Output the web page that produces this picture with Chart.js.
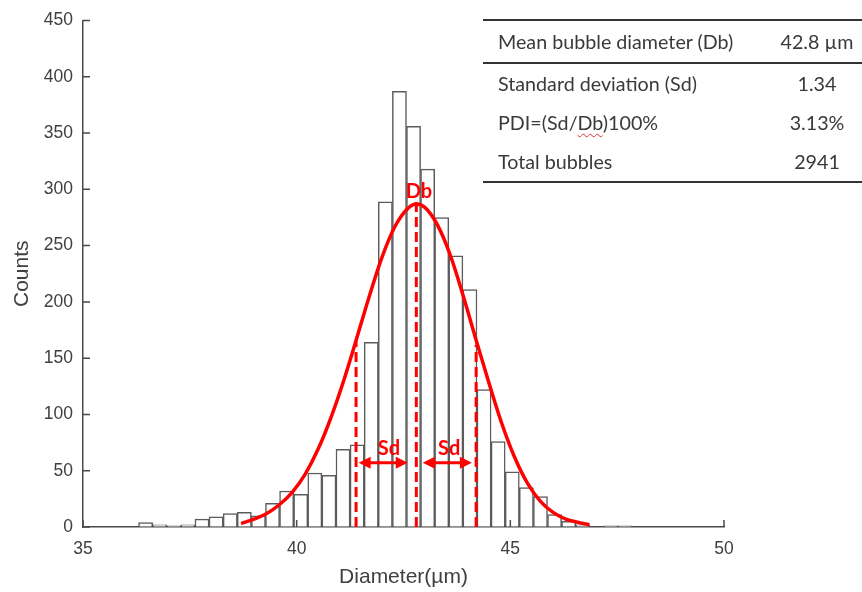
<!DOCTYPE html>
<html lang="en">
<head>
  <meta charset="UTF-8">
  <title>Bubble Diameter Distribution</title>
  <script src="https://cdn.jsdelivr.net/npm/chart.js"></script>
  <style>
    body {
      margin: 0;
      background: #ffffff;
    }
    .wrap {
      position: relative;
      width: 862px;
      height: 592px;
    }

    /* stats table, top right */
    .stats {
      position: absolute;
      left: 483px;
      top: 19px;
      width: 379px;
      border-collapse: collapse;
      font-family: 'Lato', sans-serif;
      font-size: 19.7px;
      color: #3a3a3a;
      border-top: 2px solid #333;
      border-bottom: 2px solid #333;
    }
    .stats td {
      padding: 0;
      height: 39px;
      line-height: 39px;
      white-space: nowrap;
    }
    .stats tr.head td {
      height: 41px;
      border-bottom: 2px solid #333;
    }
    .stats td.name { padding-left: 15px; }
    .stats td.val { text-align: center; width: 90px; }
    .squiggle { text-decoration: underline wavy #e03030 1px; text-underline-offset: 3px; }
  </style>
</head>
<body>

  <div class="wrap">
    <canvas id="histChart"></canvas>

    <table class="stats">
      <tr class="head"><td class="name">Mean bubble diameter (Db)</td><td class="val">42.8 µm</td></tr>
      <tr><td class="name">Standard deviation (Sd)</td><td class="val">1.34</td></tr>
      <tr><td class="name">PDI=(Sd/<span class="squiggle">Db</span>)100%</td><td class="val">3.13%</td></tr>
      <tr><td class="name">Total bubbles</td><td class="val">2941</td></tr>
    </table>
  </div>

  <script>
// Histogram bins (bin centres, µm) and counts
const binCenters = [36.465, 36.795, 37.125, 37.455, 37.785, 38.115, 38.445, 38.775, 39.105, 39.435,
                    39.765, 40.095, 40.425, 40.755, 41.085, 41.415, 41.745, 42.075, 42.405, 42.735,
                    43.065, 43.395, 43.725, 44.055, 44.385, 44.715, 45.045, 45.375, 45.705, 46.035,
                    46.365, 46.695, 47.025, 47.355, 47.685];
const binCounts = [4, 2, 1, 2, 7, 9, 12, 13, 10, 21,
                   32, 29, 48, 46, 69, 73, 164, 289, 387, 356,
                   318, 275, 241, 211, 122, 76, 49, 35, 27, 11,
                   5, 2, 0, 1, 1];

// Fitted normal curve
const curveX = [38.7, 39.0, 39.3, 39.6, 39.9, 40.2, 40.5, 40.8, 41.1, 41.4, 41.7, 42.0, 42.3, 42.6, 42.8,
                43.0, 43.3, 43.6, 43.9, 44.2, 44.5, 44.8, 45.1, 45.4, 45.7, 46.0, 46.3, 46.6, 46.85];
const curveY = [3, 7, 12, 20, 31, 47, 69, 97, 130, 167, 205, 240, 267, 283, 287,
                284, 268, 241, 205, 166, 128, 92, 62, 39, 23, 13, 7, 4, 2];

// Mean and +-Sd markers
const markerX = [41.39, 42.8, 44.2];
const markerTop = [165, 290, 162];
const arrowY = 57;
const leftArrow = [41.45, 42.6];
const rightArrow = [42.95, 44.1];
const labelText = ['Sd', 'Sd', 'Db'];
const labelX = [42.16, 43.57, 42.86];
const labelY = [70, 70, 298];

const xTicks = [35, 40, 45, 50];
const yMax = 450;

const RED = '#ff0000';
const AXIS = '#4a4a4a';
const tickFont = { family: 'Liberation Sans', size: 17.5 };
const titleFont = { family: 'Liberation Sans', size: 21 };

// vertical dashed markers as line datasets
const markerSets = markerX.map((mx, i) => ({
  type: 'line',
  data: [{ x: mx, y: 0 }, { x: mx, y: markerTop[i] }],
  borderColor: RED,
  borderWidth: 3,
  borderDash: [10, 5],
  pointRadius: 0,
  order: 1
}));

// arrows, labels and inward tick marks
const annotate = {
  id: 'annotate',
  afterDatasetsDraw(chart) {
    const { ctx, scales: { x, y } } = chart;
    ctx.save();
    ctx.strokeStyle = RED;
    ctx.fillStyle = RED;
    ctx.lineWidth = 3;
    [leftArrow, rightArrow].forEach(a => {
      const x1 = x.getPixelForValue(a[0]);
      const x2 = x.getPixelForValue(a[1]);
      const py = y.getPixelForValue(arrowY);
      ctx.beginPath();
      ctx.moveTo(x1 + 6, py);
      ctx.lineTo(x2 - 6, py);
      ctx.stroke();
      // heads
      ctx.beginPath();
      ctx.moveTo(x1, py);
      ctx.lineTo(x1 + 12, py - 6);
      ctx.lineTo(x1 + 12, py + 6);
      ctx.closePath();
      ctx.fill();
      ctx.beginPath();
      ctx.moveTo(x2, py);
      ctx.lineTo(x2 - 12, py - 6);
      ctx.lineTo(x2 - 12, py + 6);
      ctx.closePath();
      ctx.fill();
    });
    ctx.font = 'bold 20px Lato';
    ctx.textAlign = 'center';
    ctx.textBaseline = 'middle';
    labelText.forEach((t, i) => {
      ctx.fillText(t, x.getPixelForValue(labelX[i]), y.getPixelForValue(labelY[i]));
    });
    ctx.restore();
  },
  afterDraw(chart) {
    const { ctx, scales: { x, y } } = chart;
    ctx.save();
    ctx.strokeStyle = AXIS;
    ctx.lineWidth = 1.5;
    ctx.beginPath();
    x.ticks.forEach(t => {
      const px = x.getPixelForValue(t.value);
      ctx.moveTo(px, x.top);
      ctx.lineTo(px, x.top - 7);
    });
    y.ticks.forEach(t => {
      const py = y.getPixelForValue(t.value);
      ctx.moveTo(y.right, py);
      ctx.lineTo(y.right + 7, py);
    });
    ctx.stroke();
    ctx.restore();
  }
};

new Chart(document.getElementById('histChart'), {
  data: {
    datasets: [
      {
        type: 'line',
        data: curveX.map((v, i) => ({ x: v, y: curveY[i] })),
        borderColor: RED,
        borderWidth: 3.5,
        pointRadius: 0,
        cubicInterpolationMode: 'monotone',
        order: 0
      },
      ...markerSets,
      {
        type: 'bar',
        data: binCenters.map((v, i) => ({ x: v, y: binCounts[i] })),
        backgroundColor: '#ffffff',
        borderColor: '#5c5c5c',
        borderWidth: 1.5,
        barPercentage: 1,
        categoryPercentage: 1,
        order: 2
      }
    ]
  },
  options: {
    responsive: true,
    maintainAspectRatio: false,
    animation: false,
    layout: { padding: { top: 19, right: 138, bottom: 0, left: 0 } },
    plugins: {
      legend: { display: false },
      tooltip: { enabled: false }
    },
    scales: {
      x: {
        type: 'linear',
        min: 35,
        max: 50,
        offset: false,
        afterBuildTicks: s => { s.ticks = xTicks.map(v => ({ value: v })); },
        afterFit: s => { s.height = 65; },
        ticks: { color: '#404040', font: tickFont, padding: 12, maxRotation: 0 },
        grid: { drawOnChartArea: false, drawTicks: false, offset: false },
        border: { color: AXIS, width: 1.5 },
        title: {
          display: true,
          text: 'Diameter(µm)',
          color: '#404040',
          font: titleFont,
          padding: { top: 0, bottom: 2 }
        }
      },
      y: {
        min: 0,
        max: yMax,
        afterFit: s => { s.width = 83; },
        ticks: { stepSize: 50, color: '#404040', font: tickFont, padding: 10 },
        grid: { drawOnChartArea: false, drawTicks: false },
        border: { color: AXIS, width: 1.5 },
        title: {
          display: true,
          text: 'Counts',
          color: '#404040',
          font: titleFont,
          padding: { top: 10, bottom: 0 }
        }
      }
    }
  },
  plugins: [annotate]
});
  </script>
</body>
</html>
